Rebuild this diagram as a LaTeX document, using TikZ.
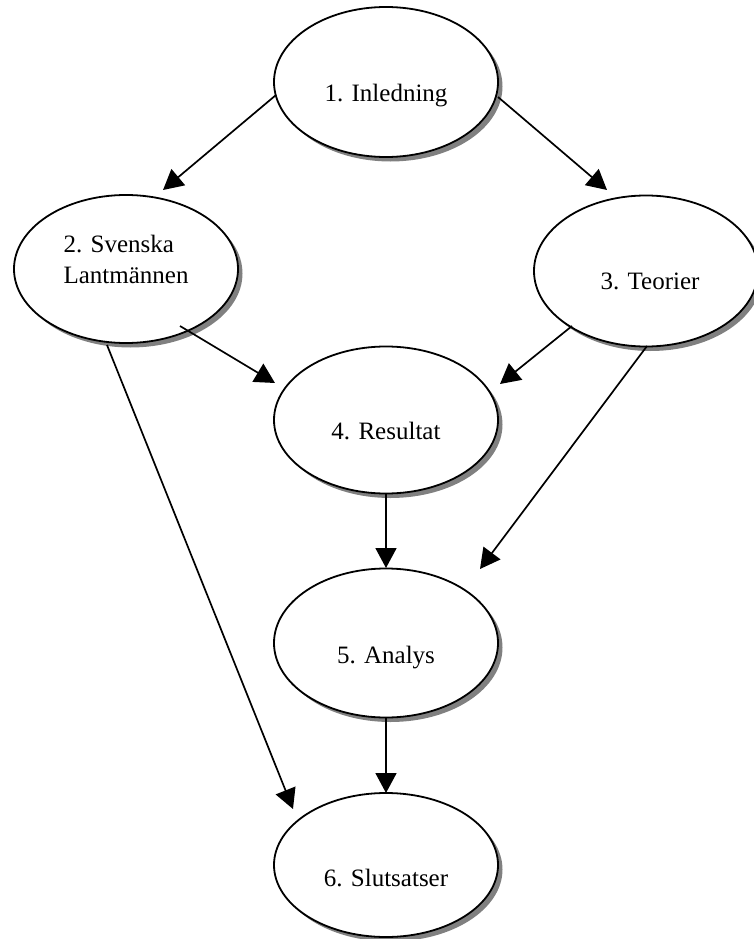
\documentclass[tikz,border=0pt]{standalone}
\usepackage{fontspec}
\setmainfont{Liberation Serif}
\usetikzlibrary{shapes.geometric,shadows,arrows.meta}
\begin{document}
\begin{tikzpicture}[x=1pt,y=-1pt,
  bub/.style={ellipse, draw, line width=1.8pt, fill=white, minimum width=224pt, inner sep=0pt,
    font=\fontsize{25}{31}\selectfont,
    drop shadow={shadow xshift=4.5pt, shadow yshift=-4.5pt, fill=black!50, opacity=1}},
  conn/.style={line width=1.7pt, -{Triangle[length=20pt,width=21pt]}}]
\useasboundingbox (0,0) rectangle (753,939);
\node[bub, minimum height=150pt] (n1) at (386,82) {\raisebox{-20pt}[0pt][0pt]{1. Inledning}};
\node[bub, minimum height=148pt] (n2) at (126,269) {\raisebox{17pt}[0pt][0pt]{\begin{tabular}[t]{@{}l@{}}2. Svenska\\Lantmännen\end{tabular}}};
\node[bub, minimum height=151pt] (n3) at (646,271) {\raisebox{-18pt}[0pt][0pt]{\hspace*{8pt}3. Teorier}};
\node[bub, minimum height=147pt] (n4) at (386,420) {\raisebox{-19pt}[0pt][0pt]{4. Resultat}};
\node[bub, minimum height=149pt] (n5) at (386,643) {\raisebox{-20pt}[0pt][0pt]{5. Analys}};
\node[bub, minimum height=144pt] (n6) at (386,865) {\raisebox{-21pt}[0pt][0pt]{6. Slutsatser}};
\draw[conn] ([shift={(-110,13)}]n1.center) -- ([shift={(37,-79)}]n2.center);
\draw[conn] ([shift={(112,15)}]n1.center) -- ([shift={(-39,-81)}]n3.center);
\draw[conn] ([shift={(54,57)}]n2.center) -- ([shift={(-111,-37)}]n4.center);
\draw[conn] ([shift={(-74,55)}]n3.center) -- ([shift={(114,-36)}]n4.center);
\draw[conn] ([shift={(1,75)}]n3.center) -- ([shift={(94,-74)}]n5.center);
\draw[conn] ([shift={(0,74)}]n4.center) -- ([shift={(0,-75)}]n5.center);
\draw[conn] ([shift={(0,75)}]n5.center) -- ([shift={(0,-72)}]n6.center);
\draw[conn] ([shift={(-19,76)}]n2.center) -- ([shift={(-93,-56)}]n6.center);
\end{tikzpicture}
\end{document}
